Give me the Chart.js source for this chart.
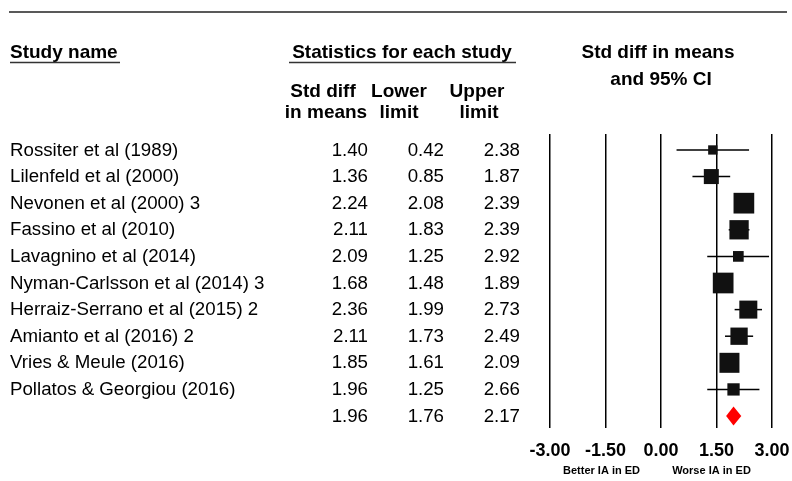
<!DOCTYPE html>
<html><head><meta charset="utf-8">
<script src="https://cdn.jsdelivr.net/npm/chart.js@4.4.0/dist/chart.umd.min.js"></script>
<style>html,body{margin:0;padding:0;background:#fff;overflow:hidden}#wrap{width:792px;height:481px;position:relative}canvas{display:block}</style>
</head><body><div id="wrap"><canvas id="c" width="792" height="481"></canvas></div>
<script>
// ---- data ----
const studyNames = [
  'Rossiter et al (1989)',
  'Lilenfeld et al (2000)',
  'Nevonen et al (2000) 3',
  'Fassino et al (2010)',
  'Lavagnino et al (2014)',
  'Nyman-Carlsson et al (2014) 3',
  'Herraiz-Serrano et al (2015) 2',
  'Amianto et al (2016) 2',
  'Vries & Meule (2016)',
  'Pollatos & Georgiou (2016)'
];
const stdDiff    = [1.40, 1.36, 2.24, 2.11, 2.09, 1.68, 2.36, 2.11, 1.85, 1.96];
const lowerLimit = [0.42, 0.85, 2.08, 1.83, 1.25, 1.48, 1.99, 1.73, 1.61, 1.25];
const upperLimit = [2.38, 1.87, 2.39, 2.39, 2.92, 1.89, 2.73, 2.49, 2.09, 2.66];
const summaryStdDiff = 1.96;
const summaryLower = 1.76;
const summaryUpper = 2.17;
const xTickValues = [-3.00, -1.50, 0.00, 1.50, 3.00];
const leftAxisNote = 'Better IA in ED';
const rightAxisNote = 'Worse IA in ED';

// ---- style (not data) ----
const FONT = '"Liberation Sans", Arial, Helvetica, sans-serif';
const squareSidePx = [9.3, 15, 20.7, 19.3, 10.7, 20.7, 18, 17.3, 20, 12.3];

Chart.defaults.font.family = FONT;

const ciDatasets = studyNames.map((n, i) => ({
  type: 'line',
  label: n,
  data: [{x: lowerLimit[i], y: i}, {x: upperLimit[i], y: i}],
  borderColor: '#000',
  borderWidth: 1.5,
  pointRadius: 0,
  showLine: true,
  fill: false,
  order: 2
}));

const squares = {
  type: 'scatter',
  label: 'Std diff in means',
  data: stdDiff.map((v, i) => ({x: v, y: i})),
  pointStyle: 'rect',
  pointRadius: squareSidePx.map(s => s / Math.SQRT2),
  backgroundColor: '#111',
  borderColor: '#111',
  borderWidth: 0,
  order: 0
};

const tablePlugin = {
  id: 'tablePlugin',
  afterDraw(chart) {
    const ctx = chart.ctx;
    const ys = chart.scales.y, xs = chart.scales.x;
    ctx.save();
    // top rule
    ctx.strokeStyle = '#222';
    ctx.lineWidth = 1.6;
    ctx.beginPath(); ctx.moveTo(9, 12); ctx.lineTo(787, 12); ctx.stroke();

    ctx.fillStyle = '#000';
    ctx.textBaseline = 'alphabetic';
    ctx.font = 'bold 19px ' + FONT;
    ctx.textAlign = 'left';
    ctx.fillText('Study name', 10, 58);
    ctx.textAlign = 'center';
    ctx.fillText('Statistics for each study', 402, 58);
    ctx.fillText('Std diff in means', 658, 58);
    ctx.fillText('and 95% CI', 661, 85);
    ctx.fillText('Std diff', 323, 96.5);
    ctx.fillText('in means', 326, 117.5);
    ctx.fillText('Lower', 399, 96.5);
    ctx.fillText('limit', 399, 117.5);
    ctx.fillText('Upper', 477, 96.5);
    ctx.fillText('limit', 479, 117.5);
    // underlines
    ctx.strokeStyle = '#333';
    ctx.lineWidth = 1.5;
    ctx.beginPath(); ctx.moveTo(10, 62.5); ctx.lineTo(120, 62.5); ctx.stroke();
    ctx.beginPath(); ctx.moveTo(289, 62.5); ctx.lineTo(516, 62.5); ctx.stroke();

    // rows
    ctx.font = '18.7px ' + FONT;
    ctx.textBaseline = 'middle';
    const rowY = i => ys.getPixelForValue(i) + 0.5;
    studyNames.forEach((n, i) => {
      const y = rowY(i);
      ctx.textAlign = 'left';
      ctx.fillText(n, 10, y);
      ctx.textAlign = 'right';
      ctx.fillText(stdDiff[i].toFixed(2), 368, y);
      ctx.fillText(lowerLimit[i].toFixed(2), 444, y);
      ctx.fillText(upperLimit[i].toFixed(2), 520, y);
    });
    const sy = rowY(studyNames.length);
    ctx.textAlign = 'right';
    ctx.fillText(summaryStdDiff.toFixed(2), 368, sy);
    ctx.fillText(summaryLower.toFixed(2), 444, sy);
    ctx.fillText(summaryUpper.toFixed(2), 520, sy);

    // summary diamond
    const dy = ys.getPixelForValue(studyNames.length);
    ctx.fillStyle = '#ff0000';
    ctx.beginPath();
    ctx.moveTo(xs.getPixelForValue(summaryLower), dy);
    ctx.lineTo(xs.getPixelForValue(summaryStdDiff), dy - 9.5);
    ctx.lineTo(xs.getPixelForValue(summaryUpper), dy);
    ctx.lineTo(xs.getPixelForValue(summaryStdDiff), dy + 9.5);
    ctx.closePath();
    ctx.fill();

    // axis notes
    ctx.fillStyle = '#000';
    ctx.font = 'bold 11px ' + FONT;
    ctx.textAlign = 'center';
    ctx.textBaseline = 'middle';
    ctx.fillText(leftAxisNote, 601.5, 471);
    ctx.fillText(rightAxisNote, 711.5, 471);
    ctx.restore();
  }
};

new Chart(document.getElementById('c'), {
  type: 'scatter',
  data: { datasets: [...ciDatasets, squares] },
  options: {
    responsive: false,
    animation: false,
    devicePixelRatio: 1,
    events: [],
    layout: { padding: { left: 550, right: 20, top: 134, bottom: 0 } },
    plugins: { legend: { display: false }, tooltip: { enabled: false } },
    scales: {
      x: {
        type: 'linear',
        position: 'bottom',
        min: -3, max: 3,
        afterBuildTicks: s => { s.ticks = xTickValues.map(v => ({ value: v })); },
        afterFit: s => { s.height = 53; s.paddingLeft = 0; s.paddingRight = 0; },
        ticks: {
          autoSkip: false, maxRotation: 0, minRotation: 0,
          padding: 12,
          color: '#000',
          font: { size: 18, weight: 'bold', family: FONT },
          callback: v => Number(v).toFixed(2)
        },
        grid: { color: '#000', lineWidth: 1.5, drawTicks: false, drawOnChartArea: true },
        border: { display: false }
      },
      y: {
        type: 'linear',
        display: false,
        reverse: true,
        min: -0.6, max: 10.45
      }
    }
  },
  plugins: [tablePlugin]
});
</script>
</body></html>
